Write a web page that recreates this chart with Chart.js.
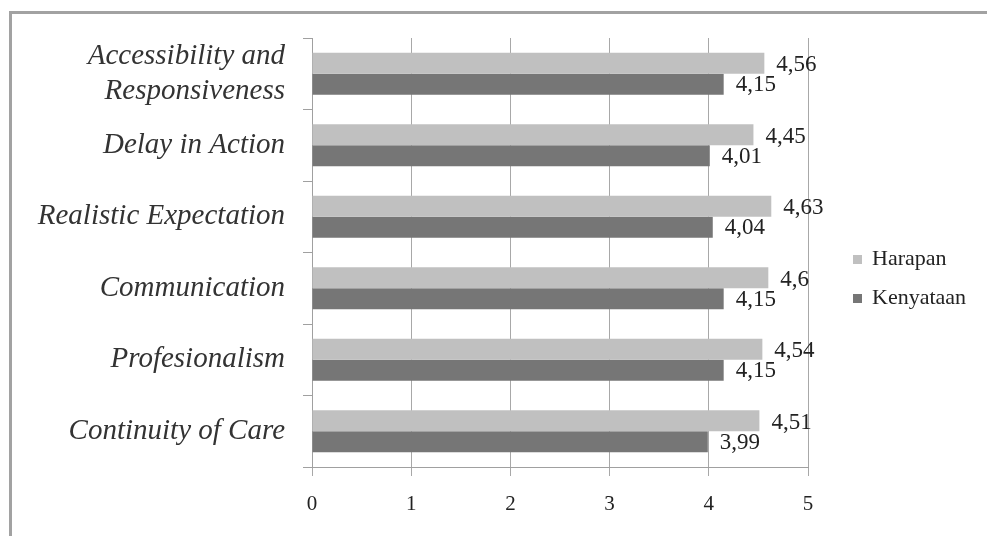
<!DOCTYPE html>
<html>
<head>
<meta charset="utf-8">
<script src="https://cdn.jsdelivr.net/npm/chart.js@4/dist/chart.umd.min.js"></script>
<style>
  html, body { margin: 0; padding: 0; background: #fff; }
  #wrap { position: relative; width: 987px; height: 536px; overflow: hidden; }
  #frame { position: absolute; left: 9px; top: 11px; width: 1200px; height: 800px;
           border-top: 3px solid #a2a2a2; border-left: 3px solid #a2a2a2; box-sizing: border-box; }
  canvas { position: absolute; left: 0; top: 0; }
</style>
</head>
<body>
<div id="wrap">
  <div id="frame"></div>
  <canvas id="c" width="987" height="536"></canvas>
</div>
<script>
// Service-quality dimensions, expectation (Harapan) vs reality (Kenyataan)
const categories = [
  ['Accessibility and', 'Responsiveness'],
  'Delay in Action',
  'Realistic Expectation',
  'Communication',
  'Profesionalism',
  'Continuity of Care'
];
const harapan   = [4.56, 4.45, 4.63, 4.6, 4.54, 4.51];
const kenyataan = [4.15, 4.01, 4.04, 4.15, 4.15, 3.99];
const seriesNames = ['Harapan', 'Kenyataan'];
const seriesColors = ['#c0c0c0', '#767676'];
const xTicks = [0, 1, 2, 3, 4, 5];

const SERIF = "'Liberation Serif', 'Times New Roman', serif";

// Value labels written next to the end of every bar
const valueLabels = {
  id: 'valueLabels',
  afterDatasetsDraw(chart) {
    const ctx = chart.ctx;
    ctx.save();
    ctx.font = '23px ' + SERIF;
    ctx.fillStyle = '#222';
    ctx.textAlign = 'left';
    ctx.textBaseline = 'middle';
    chart.data.datasets.forEach((ds, di) => {
      chart.getDatasetMeta(di).data.forEach((bar, i) => {
        const txt = String(ds.data[i]).replace('.', ',');
        ctx.fillText(txt, bar.x + 12, bar.y + (di === 0 ? 2 : 1));
      });
    });
    ctx.restore();
  }
};

// Legend on the right side
const sideLegend = {
  id: 'sideLegend',
  afterDraw(chart) {
    const ctx = chart.ctx;
    ctx.save();
    ctx.font = '22px ' + SERIF;
    ctx.textBaseline = 'middle';
    const ys = [259, 298];
    chart.data.datasets.forEach((ds, di) => {
      ctx.fillStyle = ds.backgroundColor;
      ctx.fillRect(853, ys[di] - 4, 9, 9);
      ctx.fillStyle = '#222';
      ctx.fillText(ds.label, 872, ys[di]);
    });
    ctx.restore();
  }
};

new Chart(document.getElementById('c'), {
  type: 'bar',
  data: {
    labels: categories,
    datasets: [
      { label: seriesNames[0], data: harapan, backgroundColor: seriesColors[0] },
      { label: seriesNames[1], data: kenyataan, backgroundColor: seriesColors[1] }
    ]
  },
  options: {
    indexAxis: 'y',
    responsive: false,
    animation: false,
    devicePixelRatio: 1,
    layout: { padding: { top: 38, right: 179, bottom: 0, left: 0 } },
    datasets: { bar: { categoryPercentage: 0.59, barPercentage: 1.0 } },
    plugins: {
      legend: { display: false },
      tooltip: { enabled: false }
    },
    scales: {
      x: {
        min: 0, max: 5,
        afterBuildTicks(scale) { scale.ticks = xTicks.map(v => ({ value: v })); },
        afterFit(scale) { scale.height = 69; },
        grid: { color: '#a8a8a8', lineWidth: 1, tickLength: 9, drawTicks: true },
        border: { display: true, color: '#a0a0a0', width: 1 },
        ticks: { color: '#222', font: { family: SERIF, size: 21 }, padding: 16 }
      },
      y: {
        afterFit(scale) { scale.width = 312; },
        grid: { display: true, drawOnChartArea: false, offset: true, color: '#a0a0a0', tickLength: 9 },
        border: { display: true, color: '#a0a0a0', width: 1 },
        ticks: { autoSkip: false, color: '#333', font: { family: SERIF, size: 29, style: 'italic', lineHeight: 1.2 }, padding: 18 }
      }
    }
  },
  plugins: [valueLabels, sideLegend]
});
</script>
</body>
</html>
